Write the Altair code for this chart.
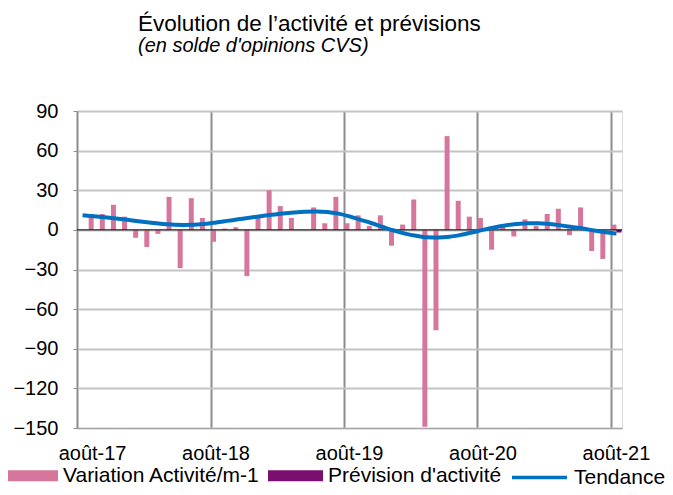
import altair as alt
import pandas as pd

# ---- data ----
months = [f"{2017 + (7 + k) // 12}-{(7 + k) % 12 + 1:02d}" for k in range(49)]  # 2017-08 .. 2021-08

variation = [None, 12, 12, 19, 10, -6, -13, -3, 25, -29, 24, 9,
             -9, 1, 2, -35, 9, 30, 18, 9, 0, 17, 5, 25,
             5, 11, 3, 11, -12, 4, 23, -149, -76, 71, 22, 10,
             9, -15, 3, -5, 8, 3, 12, 16, -4, 17, -16, -22,
             4]
prevision = [None] * 48 + [-2]
tendance = [11, 10.3, 9.5, 8.6, 7.6, 6.5, 5.5, 4.6, 4.0, 3.7, 3.8, 4.5,
            5.6, 6.8, 8.0, 9.2, 10.3, 11.4, 12.4, 13.2, 13.8, 14.0, 13.6, 12.3,
            10.2, 7.6, 5.0, 2.2, -0.5, -2.8, -4.5, -5.6, -5.8, -5.2, -3.8, -2.0,
            0.0, 1.8, 3.3, 4.4, 5.0, 5.0, 4.4, 3.4, 2.2, 1.0, -0.5, -1.8,
            -2.8]

series_names = ["Variation Activité/m-1", "Prévision d'activité", "Tendance"]
series_colors = ["#D6769C", "#7B0F6E", "#0070C0"]

tick_values = ["2017-08", "2018-08", "2019-08", "2020-08", "2021-08"]
tick_labels = ["août-17", "août-18", "août-19", "août-20", "août-21"]
y_ticks = [-150, -120, -90, -60, -30, 0, 30, 60, 90]

# ---- tables ----
bars = pd.DataFrame(
    {"month": months * 2,
     "series": [series_names[0]] * 49 + [series_names[1]] * 49,
     "value": variation + prevision}
)
trend = pd.DataFrame({"month": months, "series": series_names[2], "value": tendance})

FONT = "Liberation Sans"

label_expr = "datum.value"
for v, l in zip(reversed(tick_values), reversed(tick_labels)):
    label_expr = f"datum.value === '{v}' ? '{l}' : ({label_expr})"

xscale = alt.Scale(domain=months, paddingInner=0.1, paddingOuter=0.05)
xaxis = alt.Axis(
    values=tick_values, labelExpr=label_expr, bandPosition=0, labelAngle=0,
    title=None, grid=True, gridColor="#8C8C8C", gridWidth=2, ticks=False,
    domain=True, domainColor="#A6A6A6", domainWidth=1,
    labelFont=FONT, labelFontSize=20, labelColor="black", labelPadding=15,
    labelOverlap=False,
    labelOffset={"condition": {"test": "datum.value === '2017-08'", "value": 10}, "value": 0},
)
yscale = alt.Scale(domain=[-150, 90], nice=False, zero=False)
yaxis = alt.Axis(
    values=y_ticks, title=None, grid=True, gridColor="#C4C4C4", gridWidth=2,
    domainColor="#8C8C8C", domainWidth=1, tickColor="#8C8C8C", tickSize=4,
    labelFont=FONT, labelFontSize=20, labelColor="black", labelPadding=15,
    labelOverlap=False, labelBound=False,
)

bar_layer = alt.Chart(bars).mark_bar().encode(
    x=alt.X("month:O", scale=xscale, axis=xaxis),
    xOffset=alt.XOffset("series:N", scale=alt.Scale(domain=series_names[:2], paddingInner=0, paddingOuter=0)),
    y=alt.Y("value:Q", scale=yscale, axis=yaxis),
    color=alt.Color(
        "series:N",
        scale=alt.Scale(domain=series_names[:2], range=series_colors[:2]),
        legend=alt.Legend(
            title=None, orient="none", direction="horizontal", legendX=-74, legendY=337,
            symbolType="M-1,-0.2H1V0.2H-1Z", symbolSize=3025, symbolStrokeWidth=0,
            labelFont=FONT, labelFontSize=21, labelColor="black", labelOffset=5,
            columnPadding=8, padding=0, labelLimit=400,
        ),
    ),
)

zero_rule = alt.Chart(pd.DataFrame({"y": [0]})).mark_rule(color="black", strokeWidth=1).encode(
    y=alt.Y("y:Q", scale=yscale, axis=yaxis)
)

line_layer = alt.Chart(trend).mark_line(strokeWidth=4, interpolate="monotone").encode(
    x=alt.X("month:O", scale=xscale, axis=xaxis),
    y=alt.Y("value:Q", scale=yscale, axis=yaxis),
    stroke=alt.Stroke(
        "series:N",
        scale=alt.Scale(domain=series_names[2:], range=series_colors[2:]),
        legend=alt.Legend(
            title=None, orient="none", direction="horizontal", legendX=433, legendY=337,
            symbolType="M-1,0H1", symbolSize=3025, symbolStrokeWidth=3.5,
            labelFont=FONT, labelFontSize=21, labelColor="black", labelOffset=5,
            padding=0, labelLimit=400,
        ),
    ),
)

chart = alt.layer(bar_layer, zero_rule, line_layer).resolve_scale(
    color="independent", stroke="independent"
).properties(
    width=545, height=317,
    padding={"left": 69, "top": 103, "right": 43, "bottom": 59},
    autosize=alt.AutoSizeParams(type="none"),
    title=alt.TitleParams(
        text="Évolution de l’activité et prévisions",
        subtitle="(en solde d'opinions CVS)",
        anchor="start", dx=135, offset=45,
        font=FONT, fontSize=22.5, fontWeight="normal", color="black",
        subtitleFont=FONT, subtitleFontSize=20, subtitleFontStyle="italic",
        subtitleColor="black", subtitlePadding=1,
    ),
).configure_view(stroke=None).configure_axis(labelOverlap=False).configure(background="white")

chart.save("out.html", embed_options={"renderer": "svg", "actions": False})
